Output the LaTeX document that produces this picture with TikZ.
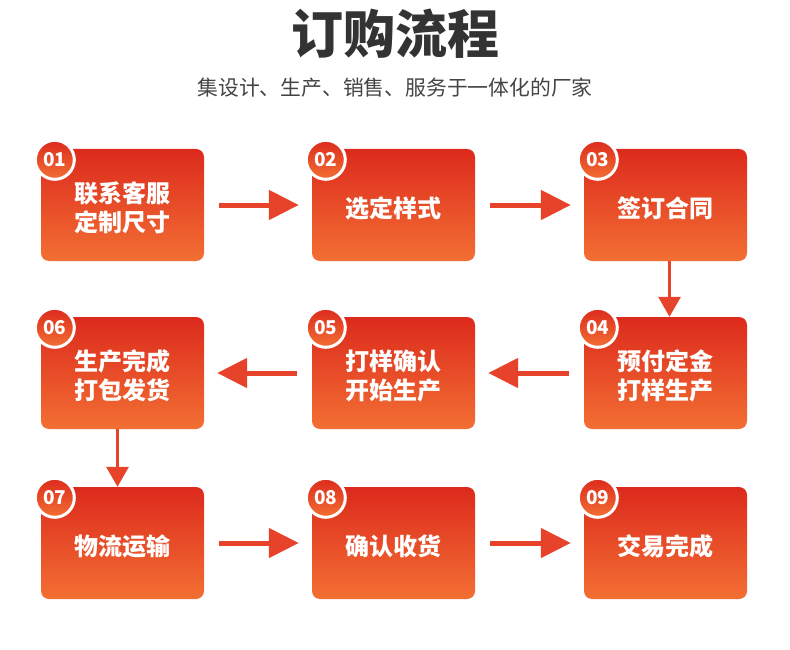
\documentclass[tikz,border=0pt]{standalone}
\usepackage{fontspec}
\newfontfamily\cjk{Noto Sans CJK SC}
\usetikzlibrary{arrows.meta}
\definecolor{redtop}{HTML}{DC2A1D}
\definecolor{orangebot}{HTML}{F36F33}
\definecolor{arrowc}{HTML}{E6432A}
\definecolor{titlec}{HTML}{333333}
\definecolor{subc}{HTML}{444444}
% box text, set a little below the middle
\newcommand\boxtxt[1]{\raisebox{0pt}[\dimexpr\height+12pt\relax][\depth]{\begin{tabular}{@{}c@{}}#1\end{tabular}}}
\begin{document}
\begin{tikzpicture}[x=1pt, y=-1pt,
        every node/.style={font=\cjk},
        stage/.style={rounded corners=8pt, top color=redtop, bottom color=orangebot, minimum width=163pt, minimum height=112pt, inner sep=0pt, text=white, font=\cjk\bfseries\fontsize{24}{27}\selectfont},
        badge/.style={circle, draw=white, line width=3pt, top color=redtop, bottom color=orangebot, minimum size=39pt, inner sep=0pt, text=white, font=\cjk\bfseries\fontsize{19}{19}\selectfont},
        flecha/.style={draw=arrowc, line width=5pt, -{Triangle[length=30pt,width=29pt]}, shorten <=15pt, shorten >=13pt},
        bajada/.style={draw=arrowc, line width=3pt, -{Triangle[length=20pt,width=22pt]}}
    ]
    \path[fill=white] (0,0) rectangle (790,650);
    \useasboundingbox (0,0) rectangle (790,650);

    \node[text=titlec, font=\cjk\bfseries\fontsize{52}{52}\selectfont] (title) at (395,34) {订购流程};
    \node[text=subc, font=\cjk\fontsize{20.8}{21}\selectfont] (sub) at (395,88) {集设计、生产、销售、服务于一体化的厂家};

    \node[stage] (b1) at (122.5,205) {\boxtxt{联系客服\\定制尺寸}};
    \node[stage] (b2) at (393.5,205) {\boxtxt{选定样式}};
    \node[stage] (b3) at (665.5,205) {\boxtxt{签订合同}};
    \node[stage] (b4) at (665.5,373) {\boxtxt{预付定金\\打样生产}};
    \node[stage] (b5) at (393.5,373) {\boxtxt{打样确认\\开始生产}};
    \node[stage] (b6) at (122.5,373) {\boxtxt{生产完成\\打包发货}};
    \node[stage] (b7) at (122.5,543) {\boxtxt{物流运输}};
    \node[stage] (b8) at (393.5,543) {\boxtxt{确认收货}};
    \node[stage] (b9) at (665.5,543) {\boxtxt{交易完成}};

    \foreach \i in {1,...,9}
        \node[badge] (n\i) at ([xshift=14pt,yshift=-11pt]b\i.north west) {0\i};

    \draw[flecha] (b1) -- (b2);
    \draw[flecha] (b2) -- (b3);
    \draw[bajada] ([xshift=4pt]b3.south) -- ([xshift=4pt]b4.north);
    \draw[flecha] (b4) -- (b5);
    \draw[flecha] (b5) -- (b6);
    \draw[bajada] ([xshift=-5pt]b6.south) -- ([xshift=-5pt]b7.north);
    \draw[flecha] (b7) -- (b8);
    \draw[flecha] (b8) -- (b9);
\end{tikzpicture}
\end{document}
